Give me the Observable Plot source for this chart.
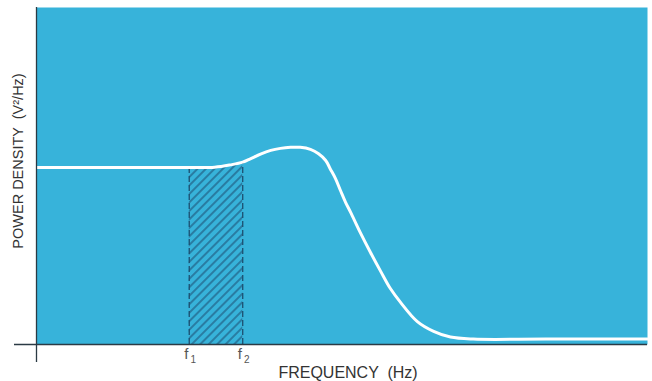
<!DOCTYPE html>
<html>
<head>
<meta charset="utf-8">
<script src="https://cdn.jsdelivr.net/npm/d3@7"></script>
<script src="https://cdn.jsdelivr.net/npm/@observablehq/plot@0.6"></script>
<style>
  html, body { margin: 0; padding: 0; background: #fff; }
  svg { display: block; }
</style>
</head>
<body>
<div id="chart"></div>
<script>
// Frequency (arbitrary units) and power density (arbitrary units)
const frequency = [0, 1, 2, 3, 3.5, 3.81, 4.05, 4.2, 4.4, 4.6, 4.79, 4.99, 5.18, 5.38, 5.54, 5.68, 5.77, 5.87, 5.97, 6.07, 6.17, 6.36, 6.56, 6.76, 6.95, 7.15, 7.48, 7.8, 8.13, 8.58, 10, 12];
const density   = [5.25, 5.25, 5.25, 5.25, 5.26, 5.33, 5.41, 5.51, 5.65, 5.76, 5.82, 5.85, 5.85, 5.79, 5.66, 5.46, 5.21, 4.93, 4.57, 4.22, 3.92, 3.32, 2.73, 2.17, 1.66, 1.25, 0.68, 0.39, 0.22, 0.16, 0.16, 0.16];
const bandEdges = [3, 4.05];
const bandSymbol = "f";
const bandSubscripts = ["1", "2"];
const xLabel = "FREQUENCY  (Hz)";
const yLabel = "POWER DENSITY  (V\u00b2/Hz)";

const curve = frequency.map((f, i) => ({f, p: density[i]}));
const band = curve.filter(d => d.f >= bandEdges[0] && d.f <= bandEdges[1]);
const edges = bandEdges.map((f, i) => ({f, p: curve.find(d => d.f === f).p, sym: bandSymbol, sub: bandSubscripts[i]}));

const font = "'Liberation Sans', Arial, Helvetica, sans-serif";
const chart = Plot.plot({
  width: 652,
  height: 381,
  marginLeft: 36,
  marginRight: 5,
  marginTop: 7,
  marginBottom: 37,
  style: {fontFamily: font, background: "#fff"},
  x: {domain: [0, 12], axis: null},
  y: {domain: [0, 10], axis: null},
  marks: [
    Plot.frame({fill: "#37b3da", stroke: "none"}),
    Plot.areaY(band, {x: "f", y: "p", fill: "url(#hatch)", curve: "catmull-rom"}),
    Plot.ruleX(edges, {x: "f", y1: 0, y2: "p", stroke: "#1d4f70", strokeWidth: 1.3, strokeDasharray: "6,3"}),
    Plot.line(curve, {x: "f", y: "p", stroke: "#ffffff", strokeWidth: 3, curve: "catmull-rom"}),
    Plot.ruleY([0], {stroke: "#2b3a44", strokeWidth: 1.6, insetLeft: -22}),
    Plot.ruleX([0], {stroke: "#2b3a44", strokeWidth: 1.3, insetBottom: -18}),
    Plot.text(edges, {x: "f", frameAnchor: "bottom", dx: -3, dy: 10, text: "sym", fontSize: 15, fill: "#555", textAnchor: "middle", lineAnchor: "middle"}),
    Plot.text(edges, {x: "f", frameAnchor: "bottom", dx: 4, dy: 15, text: "sub", fontSize: 10, fill: "#555", textAnchor: "middle", lineAnchor: "middle"}),
    Plot.text([xLabel], {frameAnchor: "bottom", dx: 6, dy: 28, fontSize: 16, fill: "#333", textAnchor: "middle", lineAnchor: "middle"}),
    Plot.text([yLabel], {frameAnchor: "left", dx: -18, dy: -15, rotate: -90, fontSize: 14.5, fill: "#333", textAnchor: "middle", lineAnchor: "middle"})
  ]
});

const defs = d3.select(chart).insert("defs", ":first-child");
const pat = defs.append("pattern")
  .attr("id", "hatch")
  .attr("patternUnits", "userSpaceOnUse")
  .attr("width", 6)
  .attr("height", 6)
  .attr("patternTransform", "rotate(45)");
pat.append("rect").attr("width", 6).attr("height", 6).attr("fill", "#37b3da");
pat.append("line").attr("x1", 1).attr("y1", 0).attr("x2", 1).attr("y2", 6)
  .attr("stroke", "#22658a").attr("stroke-width", 1.4);

document.getElementById("chart").appendChild(chart);
</script>
</body>
</html>
